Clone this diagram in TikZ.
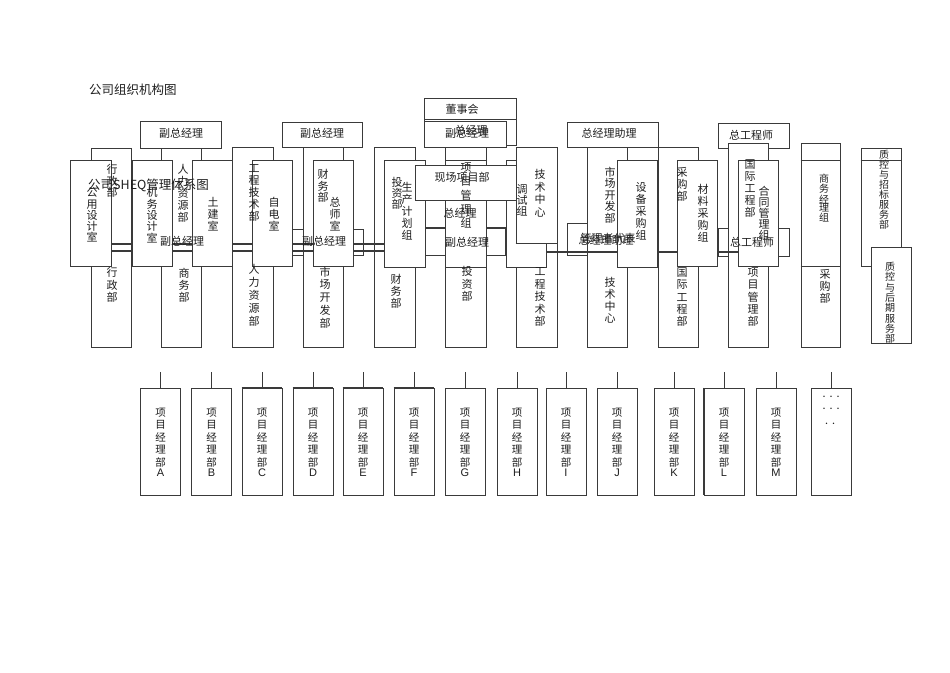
\documentclass[tikz,border=0pt]{standalone}
\usepackage{fontspec}
\setmainfont{Noto Sans CJK SC}
\newfontfamily\latinsans{Liberation Sans}
\usetikzlibrary{fit}
\definecolor{ln}{HTML}{3A3A3A}
\definecolor{tx}{HTML}{1E1E1E}
\tikzset{
 boxst/.style={draw=ln, fill=white, line width=0.7pt, inner sep=0pt},
 vt/.style={text=tx, font=\fontsize{11}{12}\selectfont, align=center, inner sep=0pt, anchor=north},
 ht/.style={text=tx, font=\fontsize{11}{12}\selectfont, inner sep=0pt},
 letter/.style={text=tx, font=\latinsans\fontsize{11}{12}\selectfont, inner sep=0pt},
 bus/.style={draw=ln, line width=1.1pt},
 thk/.style={draw=ln, line width=1.6pt},
 stub/.style={draw=ln, line width=0.7pt},
}
\newcommand\bx[6][]{\path (#3,#4) coordinate (#2-a) (#5,#6) coordinate (#2-b); \node[boxst,#1,fit=(#2-a)(#2-b)] (#2) {};}
\newcommand\vtx[5]{\node[vt, font=\fontsize{11}{#4}\selectfont] (#1) at (#2,#3) {#5};}
\newcommand\pbox[3]{%
 \bx{p#1}{#2-20}{388}{#2+20}{495}
 \coordinate (s#1) at (#2,372);
 \draw[stub] (s#1) -- (p#1.north);
 \node[vt, font=\fontsize{10.5}{12.5}\selectfont] (pt#1) at (#2,407.5) {项\\目\\经\\理\\部};
 \node[letter] (pl#1) at (#2,473) {#3};}
\begin{document}
\begin{tikzpicture}[x=1pt,y=-1pt]
\useasboundingbox[fill=white] (0,0) rectangle (950,672);

% ---- chart A top boxes
\bx{tA1}{140}{121}{221}{148}
\bx{tA2}{282}{122}{362}{147}
\bx{dsh}{424}{98}{516}{119}
\bx{zjl}{424}{119}{516}{145}
\bx{fzc}{424}{121}{506}{147}
\bx{zlz}{567}{122}{658}{147}

% ---- chart B horizontal boxes lying behind
\bx{Bv2}{282}{229}{363}{255}
\bx{Bv3}{425}{228}{505}{255}
\bx{Bm}{567}{223}{658}{255}
\bx{Bz}{718}{228}{789}{256}

% ---- chart A columns
\bx{c1}{91}{148}{131}{347}
\bx{c2}{161}{148}{201}{347}
\bx{c3}{232}{147}{273}{347}
\bx{c4}{303}{147}{343}{347}
\bx{c5}{374}{147}{415}{347}
\bx{c6}{445}{147}{486}{347}
\bx{c7}{516}{147}{557}{347}
\bx{c8}{587}{147}{627}{347}
\bx{c9}{658}{147}{698}{347}
\bx{zgc}{718}{123}{789}{148}
\bx{c10}{728}{143}{768}{347}
\bx{c11}{801}{143}{840}{347}
\bx{c12}{861}{148}{901}{266}
\draw[stub] (c11.west |- 0,160) -- (c11.east |- 0,160);
\draw[stub] (c11.west |- 0,266) -- (c11.east |- 0,266);
\draw[stub] (c12.west |- 0,160) -- (c12.east |- 0,160);

% ---- bus lines
\coordinate (bl1) at (91,244); \coordinate (br1) at (415,244);
\coordinate (bl2) at (91,251); \coordinate (br2) at (415,251);
\draw[bus] (bl1) -- (br1);
\draw[bus] (bl2) -- (br2);
\coordinate (bl3) at (415,228); \coordinate (br3) at (516,228);
\draw[thk] (bl3) -- (br3);
\coordinate (bl4) at (546,252); \coordinate (br4) at (738,252);
\draw[thk] (bl4) -- (br4);

% ---- chart B boxes
\bx{B1}{70}{160}{111}{266}
\bx{B2}{132}{160}{172}{266}
\bx{B3}{192}{160}{232}{266}
\bx{B4}{252}{160}{292}{266}
\bx{B5}{313}{160}{353}{266}
\bx{B6}{384}{160}{425}{267}
\bx{B7}{445}{160}{486}{267}
\bx{B8}{506}{160}{546}{267}
\bx{xc}{415}{165}{517}{200}
\bx{B9}{516}{147}{557}{243}
\draw[thk] (B9.south west) -- (B9.south east);
\bx{B10}{617}{160}{657}{267}
\bx{B12}{677}{160}{717}{266}
\bx{B13}{738}{160}{778}{266}
\bx{zk}{871}{247}{911}{343}

% ---- bottom row
\pbox{A}{160.5}{A}
\pbox{B}{211.5}{B}
\pbox{C}{262}{C}
\pbox{D}{313}{D}
\pbox{E}{363}{E}
\pbox{F}{414}{F}
\pbox{G}{465}{G}
\pbox{H}{517}{H}
\pbox{I}{566}{I}
\pbox{J}{617}{J}
\pbox{K}{674}{K}
\pbox{L}{724}{L}
\pbox{M}{776}{M}
\bx{pN}{811}{388}{851}{495}
\coordinate (sN) at (831,372);
\draw[stub] (sN) -- (pN.north);
\foreach \n in {C,D,E,F}{\draw[line width=1.3pt, draw=ln] (p\n.north west) -- (p\n.north east);}
\draw[line width=1.3pt, draw=ln] (pL.north west) -- (pL.south west);
\node[ht, font=\fontsize{7}{8}\selectfont] (dot1) at (831,398) {···};
\node[ht, font=\fontsize{7}{8}\selectfont] (dot2) at (831,410) {···};
\node[ht, font=\fontsize{7}{8}\selectfont] (dot3) at (830,425) {··};

% ---- titles
\node[ht, font=\fontsize{12.5}{14}\selectfont, anchor=west] (title1) at (89,90) {公司组织机构图};
\node[ht, font=\fontsize{12.5}{14}\selectfont, anchor=west] (title2) at (88,185) {公司SHEQ管理体系图};

% ---- top box texts
\node[ht] (tt1) at (181,133) {副总经理};
\node[ht] (tt2) at (322,133) {副总经理};
\node[ht] (tt3) at (462,109) {董事会};
\node[ht] (tt4) at (467,133) {副总经理};
\node[ht] (tt5) at (471,130) {总经理};
\node[ht] (tt6) at (609,133) {总经理助理};
\node[ht] (tt7) at (751,135) {总工程师};

% ---- chart A upper texts
\vtx{a1}{112}{164.5}{11.5}{行\\政\\部}
\vtx{a2}{183}{164.5}{12}{人\\力\\资\\源\\部}
\vtx{a3}{254}{164.5}{12}{工\\程\\技\\术\\部}
\vtx{a4}{323}{169.5}{11.5}{财\\务\\部}
\vtx{a5}{397}{177.5}{11}{投\\资\\部}
\vtx{a6}{466}{162.5}{14}{项\\目\\管\\理\\组}
\vtx{a7}{540}{169.5}{12.5}{技\\术\\中\\心}
\vtx{a7b}{522}{184.5}{11}{调\\试\\组}
\vtx{a8}{610}{166.5}{11.5}{市\\场\\开\\发\\部}
\vtx{a9}{682}{167.5}{12}{采\\购\\部}
\vtx{a10}{750}{159.5}{12}{国\\际\\工\\程\\部}
\node[vt, font=\fontsize{10}{8.5}\selectfont] (a11) at (824,174) {商\\务\\经\\理\\组};
\node[vt, font=\fontsize{10}{10}\selectfont] (a12) at (884,149.5) {质\\控\\与\\招\\标\\服\\务\\部};

% ---- chart A lower texts
\vtx{l1}{112}{267.5}{12.5}{行\\政\\部}
\vtx{l2}{184}{268.5}{12}{商\\务\\部}
\vtx{l3}{254}{264.5}{13}{人\\力\\资\\源\\部}
\vtx{l4}{325}{266.5}{12.8}{市\\场\\开\\发\\部}
\vtx{l5}{396}{274.5}{12}{财\\务\\部}
\vtx{l6}{467}{266.5}{12.5}{投\\资\\部}
\vtx{l7}{540}{267.5}{12.5}{工\\程\\技\\术\\部}
\vtx{l8}{610}{277.5}{12}{技\\术\\中\\心}
\vtx{l9}{682}{267.5}{12.3}{国\\际\\工\\程\\部}
\vtx{l10}{753}{267.5}{12.3}{项\\目\\管\\理\\部}
\vtx{l11}{825}{269.5}{12}{采\\购\\部}
\node[vt, font=\fontsize{10}{10.3}\selectfont] (l12) at (890,262) {质\\控\\与\\后\\期\\服\\务\\部};

% ---- chart B texts
\vtx{b1}{92}{187.5}{11.3}{公\\用\\设\\计\\室}
\vtx{b2}{152}{187.5}{11.3}{机\\务\\设\\计\\室}
\vtx{b3}{213}{197.5}{12}{土\\建\\室}
\vtx{b4}{274}{197.5}{12}{自\\电\\室}
\vtx{b5}{335}{197.5}{12}{总\\师\\室}
\vtx{b6}{407}{182.5}{12}{生\\产\\计\\划\\组}
\vtx{b11}{641}{182.5}{12}{设\\备\\采\\购\\组}
\vtx{b12}{703}{184.5}{11.8}{材\\料\\采\\购\\组}
\vtx{b13}{764}{186.5}{11}{合\\同\\管\\理\\组}
\node[ht] (b7) at (462,177) {现场项目部};
\node[ht] (b8) at (460,213) {总经理};
\node[ht] (b9) at (467,242) {副总经理};
\node[ht] (b10a) at (608,238) {管理者代表};
\node[ht] (b10b) at (606,240) {总经理助理};
\node[ht] (b14) at (752,242) {总工程师};
\node[ht] (b15) at (182,241) {副总经理};
\node[ht] (b16) at (324,241) {副总经理};
\end{tikzpicture}
\end{document}
